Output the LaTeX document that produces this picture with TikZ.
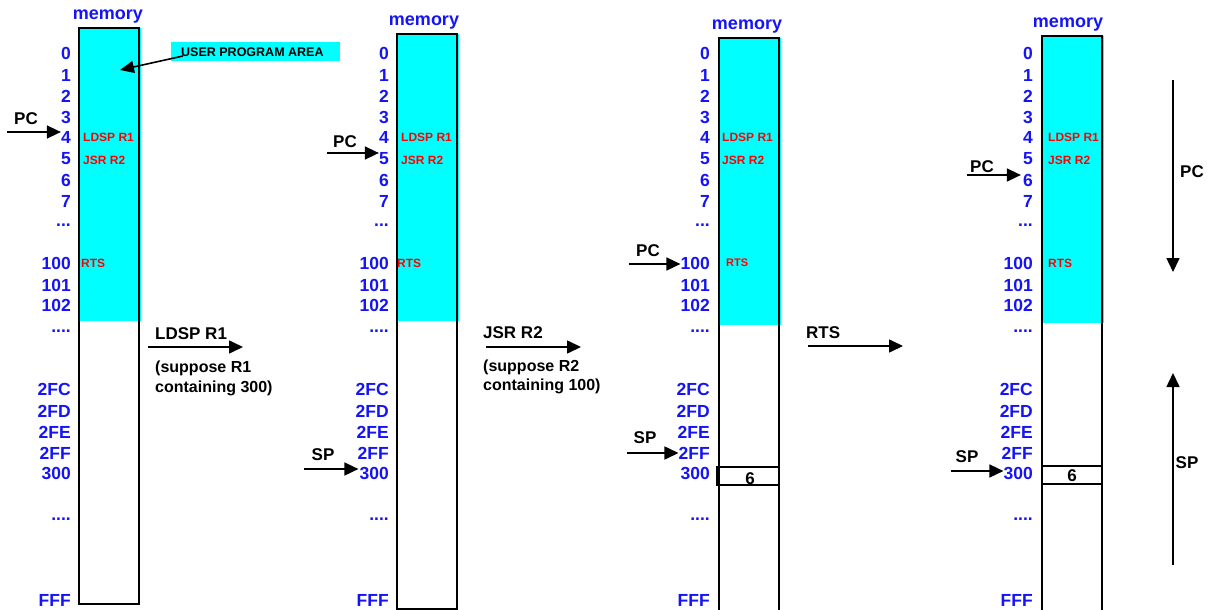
\documentclass[tikz,border=0pt]{standalone}
\usepackage{fontspec}
\setmainfont{Liberation Sans}
\usetikzlibrary{arrows.meta}
\definecolor{memcyan}{RGB}{0,255,255}
\definecolor{addrblue}{RGB}{20,20,245}
\newcommand\mydotsA{...}
\newcommand\mydotsB{....}
\tikzset{
  addr/.style={anchor=east,inner sep=0pt,text=addrblue,font=\fontsize{17.5}{18}\selectfont\bfseries},
  memlbl/.style={inner sep=0pt,text=addrblue,font=\fontsize{18}{19}\selectfont\bfseries},
  instr/.style={anchor=west,inner sep=0pt,text=red,font=\fontsize{12}{13}\selectfont\bfseries},
  reglbl/.style={inner sep=0pt,font=\fontsize{17}{18}\selectfont\bfseries},
  note/.style={anchor=west,inner sep=0pt,font=\fontsize{16}{17}\selectfont\bfseries},
  colframe/.style={draw=black,line width=1.8pt},
  arr/.style={line width=1.6pt,-{Triangle[length=14pt,width=13pt]}},
  cell/.style={draw=black,line width=1.8pt,minimum height=18pt,inner sep=0pt,outer sep=0pt},
}
% #1 id, #2 rect left, #3 top, #4 bottom, #5 cyan bottom, #6 label right x, #7 memory x, #8 memory y, #9 instr left x
\newcommand\mempanel[9]{%
  \fill[memcyan] (#2,#3) rectangle (#2+62,#5);
  \draw[colframe] (#2,#3) rectangle (#2+60,#4);
  \node[memlbl] (m#1) at (#7,#8) {memory};
  \foreach \t/\y/\n in {0/53/0,1/75/1,2/96/2,3/117/3,4/137/4,5/159/5,6/180/6,7/201/7,\mydotsA/225/d1,100/263/100,101/285/101,102/305/102,\mydotsB/331/d2,2FC/389/2FC,2FD/411/2FD,2FE/432/2FE,2FF/453/2FF,300/473/300,\mydotsB/519/d3,FFF/600/FFF}
    \node[addr] (a#1-\n) at (#6,\y) {\t};
  \node[instr] (ld#1) at (#9,137) {LDSP R1};
  \node[instr] (js#1) at (#9,160) {JSR R2};
}
\begin{document}
\begin{tikzpicture}[x=1pt,y=-1pt]
\useasboundingbox (0,0) rectangle (1207,610);
\clip (0,0) rectangle (1207,610);
% panels
\mempanel{1}{79}{28}{604}{321}{71}{108}{17}{83}
\node[instr] (rt1) at (81,263) {RTS};
\mempanel{2}{397}{34}{609}{321}{389}{424}{23}{401}
\node[instr] (rt2) at (397,263) {RTS};
\mempanel{3}{719}{38}{618}{325}{710}{747}{27}{722}
\node[instr,font=\fontsize{11}{12}\selectfont\bfseries] (rt3) at (726,263) {RTS};
\mempanel{4}{1042}{36}{618}{323}{1033}{1068}{25}{1048}
\node[instr] (rt4) at (1048,263) {RTS};
% stack cells
\node[cell,minimum width=62pt,anchor=north west] (c3) at (717,467) {};
\node[reglbl] (c3t) at (750,479) {6};
\node[cell,minimum width=60pt,anchor=north west] (c4) at (1042,466) {};
\node[reglbl] (c4t) at (1072,476) {6};
% user program area
\node[fill=memcyan,minimum width=169pt,minimum height=19pt,inner sep=0pt] (upa) at (255.5,51.5) {};
\node[anchor=west,inner sep=0pt,font=\fontsize{12.5}{13}\selectfont\bfseries] (upat) at (181,52) {USER PROGRAM AREA};
\coordinate (upas) at (183,56);
\coordinate (upae) at (120,70);
\draw[line width=1.6pt,-{Triangle[length=14pt,width=12pt]}] (upas) -- (upae);
% PC / SP pointers
\node[reglbl] (pc1) at (26,119) {PC};
\coordinate (pc1s) at (7,132);
\draw[arr] (pc1s) -- (pc1s -| a1-4.west);
\node[reglbl] (pc2) at (345,142) {PC};
\coordinate (pc2s) at (327,153);
\draw[arr] (pc2s) -- (pc2s -| a2-5.west);
\node[reglbl] (sp2) at (323,455) {SP};
\coordinate (sp2s) at (304,469);
\draw[arr] (sp2s) -- ([xshift=-1pt]sp2s -| a2-300.west);
\node[reglbl] (pc3) at (648,251) {PC};
\coordinate (pc3s) at (629,264);
\draw[arr] (pc3s) -- (pc3s -| a3-100.west);
\node[reglbl] (sp3) at (645,438) {SP};
\coordinate (sp3s) at (627,453);
\draw[arr] (sp3s) -- (sp3s -| a3-2FF.west);
\node[reglbl] (pc4) at (982,167) {PC};
\coordinate (pc4s) at (967,175);
\draw[arr] (pc4s) -- ([xshift=-2pt]pc4s -| a4-6.west);
\node[reglbl] (sp4) at (967,457) {SP};
\coordinate (sp4s) at (951,471);
\draw[arr] (sp4s) -- (sp4s -| a4-300.west);
% transitions
\node[reglbl,anchor=west] (t1) at (155,334) {LDSP R1};
\coordinate (t1s) at (148,347);
\coordinate (t1e) at (243,347);
\draw[arr] (t1s) -- (t1e);
\node[note] (n1a) at (155,368) {(suppose R1};
\node[note] (n1b) at (155,388) {containing 300)};
\node[reglbl,anchor=west] (t2) at (483,333) {JSR R2};
\coordinate (t2s) at (486,347);
\coordinate (t2e) at (581,347);
\draw[arr] (t2s) -- (t2e);
\node[note] (n2a) at (483,367) {(suppose R2};
\node[note] (n2b) at (483,386) {containing 100)};
\node[reglbl,anchor=west] (t3) at (806,333) {RTS};
\coordinate (t3s) at (808,346);
\coordinate (t3e) at (903,346);
\draw[arr] (t3s) -- (t3e);
% direction arrows
\coordinate (pcd1) at (1173,80);
\coordinate (pcd2) at (1173,272);
\draw[arr] (pcd1) -- (pcd2);
\node[reglbl] (pcd) at (1192,172) {PC};
\coordinate (spu1) at (1173,565);
\coordinate (spu2) at (1173,373);
\draw[arr] (spu1) -- (spu2);
\node[reglbl] (spu) at (1187,463) {SP};
\end{tikzpicture}
\end{document}
